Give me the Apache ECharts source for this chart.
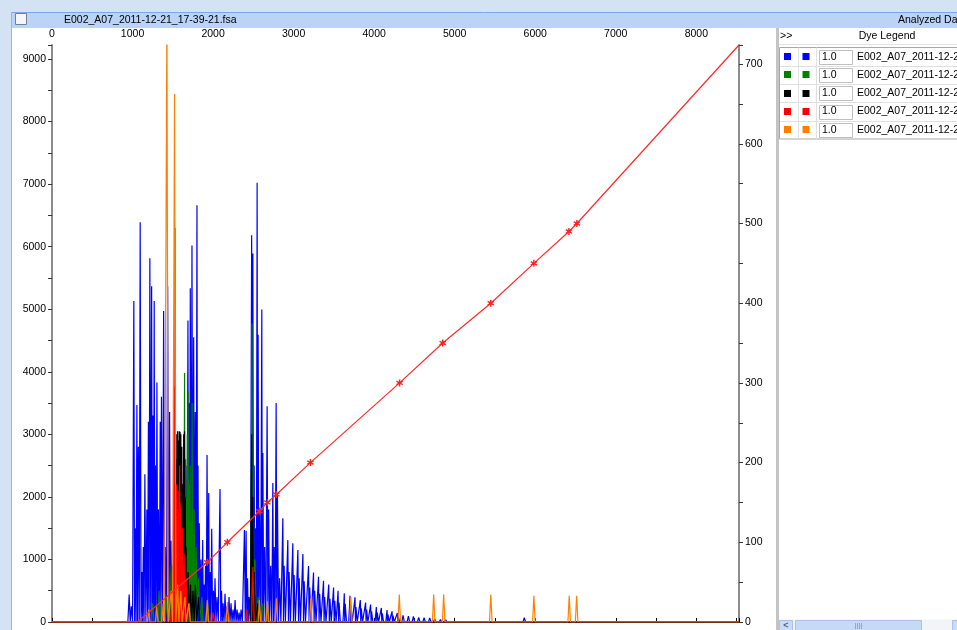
<!DOCTYPE html>
<html><head><meta charset="utf-8">
<script src="https://cdn.jsdelivr.net/npm/echarts@6/dist/echarts.min.js"></script>
<style>html,body{margin:0;padding:0;background:#fff;overflow:hidden}#c{width:957px;height:630px}</style>
</head><body><div id="c"></div>
<script>
// ---- data ----
const fileName = 'E002_A07_2011-12-21_17-39-21.fsa';
const panelTitle = 'Analyzed Data';
const legendTitle = 'Dye Legend';
const dyeNames = ['Blue', 'Green', 'Black', 'Red', 'Orange'];
const dyeColors = ['#0000ff', '#008000', '#000000', '#ff0000', '#ff8000'];
const dyeScale = ['1.0', '1.0', '1.0', '1.0', '1.0'];

const xTickLabels = [0, 1000, 2000, 3000, 4000, 5000, 6000, 7000, 8000];
const yLeftTickLabels = [0, 1000, 2000, 3000, 4000, 5000, 6000, 7000, 8000, 9000];
const yRightTickLabels = [0, 100, 200, 300, 400, 500, 600, 700];

// peaks: [scan position, height (RFU)]
const bluePeaks = [
  [958,440],[985,250],[1016,5130],[1035,1500],[1054,3470],[1072,2800],[1095,6390],[1116,800],
  [1134,1200],[1153,2360],[1178,1800],[1197,3200],[1215,5815],[1237,5365],[1253,3300],[1269,5130],
  [1284,2500],[1303,3830],[1321,1800],[1344,3200],[1359,3600],[1386,4970],[1408,1200],[1436,5365],
  [1460,3355],[1477,1300],[1495,900],[1540,700],[1570,1100],[1610,900],[1640,1500],[1663,2500],
  [1688,4820],[1703,3500],[1717,5335],[1738,6020],[1759,4550],[1779,3355],[1800,6660],[1813,2500],
  [1829,1580],[1850,1000],[1871,1310],[1887,600],[1906,900],[1925,2670],[1946,2060],[1962,800],
  [1983,1490],[2005,500],[2024,700],[2049,400],[2086,2125],[2105,500],[2124,300],[2148,450],
  [2173,250],[2198,400],[2223,300],[2248,200],[2273,350],[2298,200],[2323,150],[2348,200],
  [2389,1470],[2410,1460],[2428,700],[2447,400],[2479,6180],[2494,5890],[2510,2500],[2528,1500],
  [2547,7020],[2559,4590],[2578,1800],[2605,4995],[2618,2700],[2640,1200],[2671,3450],[2690,1800],
  [2715,900],[2742,2220],[2758,1200],[2783,3500],[2799,2040],[2826,700],[2866,1660],[2882,900],
  [2928,1310],[2944,800],[2990,1260],[3006,750],[3053,1150],[3069,700],[3115,1085],[3131,650],
  [3185,895],[3200,550],[3247,790],[3262,500],[3309,725],[3324,450],[3371,660],[3386,400],
  [3436,600],[3451,370],[3496,550],[3511,340],[3552,500],[3564,310],[3629,460],[3641,290],
  [3700,420],[3712,260],[3762,395],[3774,240],[3828,350],[3840,220],[3894,310],[3906,200],
  [3956,280],[3968,170],[4027,240],[4039,150],[4089,225],[4101,140],[4160,190],[4172,120],
  [4222,170],[4234,100],[4288,145],[4300,90],[4359,105],[4425,95],[4487,90],[4553,75],
  [4620,70],[4690,65],[4752,50],[4823,40],[4889,35],[4951,30],[5022,25],[5084,25],[5146,20],
  [5864,70]
];
const greenPeaks = [
  [1250,300],[1330,500],[1420,400],[1480,900],[1560,1200],[1600,2200],[1625,1500],[1646,3980],
  [1658,2600],[1668,2000],[1680,3000],[1690,3700],[1703,2200],[1715,2500],[1728,1600],[1740,3500],
  [1752,1400],[1765,1800],[1790,1200],[1820,700],[1860,400],[1930,300],[2483,4770],[2498,2500],
  [2520,1000],[2560,400],[2610,300],[2680,200]
];
const blackPeaks = [
  [1520,500],[1540,2600],[1550,3000],[1560,3050],[1570,2900],[1580,3050],[1590,3040],[1600,3000],
  [1612,2800],[1625,2200],[1635,3000],[1645,3050],[1655,2000],[1665,1200],[1690,800],[1720,600],
  [1750,500],[1780,600],[1820,400],[2480,3000],[2494,2000],[2510,800],[2555,300]
];
const redPeaks = [
  [1490,400],[1500,800],[1513,3770],[1528,6300],[1540,2000],[1548,2200],[1556,1600],[1565,1800],
  [1575,2100],[1585,2500],[1593,1900],[1600,1740],[1610,1300],[1620,1500],[1630,900],[1640,1100],
  [1665,700],[1700,300],[2000,150],[2420,200],[2494,880]
];
const orangePeaks = [
  [1200,200],[1300,250],[1380,300],[1427,9800],[1480,500],[1522,8440],[1560,600],[1600,500],
  [1650,400],[1700,300],[1928,350],[2177,320],[2575,350],[2674,330],[2786,380],[3213,380],
  [3710,400],[4312,440],[4739,440],[4863,440],[5448,440],[5983,420],[6422,420],[6514,420]
];

// sizing curve (right axis, bp)
const sizeStdPos = [1928, 2177, 2575, 2674, 2786, 3209, 4316, 4851, 5448, 5983, 6418, 6517];
const sizeStdBp  = [75, 100, 139, 150, 160, 200, 300, 350, 400, 450, 490, 500];
const sizeCurveHead = [[0, 0], [1060, 0]];
const sizeCurveTail = [[8530, 724]];

const xMax = 8530, yLeftMax = 9223, yRightMax = 724;

// ---- build traces ----
function trace(peaks) {
  const w = 16;
  const s = peaks.slice().sort((a, b) => a[0] - b[0]);
  const pts = [[0, 0]];
  s.forEach((p, i) => {
    const x = p[0], h = p[1];
    const l = i > 0 ? Math.max(x - w, (s[i - 1][0] + x) / 2) : x - w;
    const r = i < s.length - 1 ? Math.min(x + w, (x + s[i + 1][0]) / 2) : x + w;
    if (pts[pts.length - 1][0] < l) pts.push([l, 0]);
    pts.push([x, h]);
    pts.push([r, 0]);
  });
  pts.push([xMax, 0]);
  return pts;
}
const allPeaks = [bluePeaks, greenPeaks, blackPeaks, redPeaks, orangePeaks];

const FONT = '"Liberation Sans", Arial, sans-serif';
const TF = '10.5px ' + FONT;
const asterisk = 'path://M4,0h2v3.3l2.9-1.7 1,1.7-2.9,1.7 2.9,1.7-1,1.7-2.9-1.7v3.3h-2v-3.3l-2.9,1.7-1-1.7 2.9-1.7-2.9-1.7 1-1.7 2.9,1.7z';

const sizeData = sizeCurveHead.map(p => ({value: p, symbol: 'none'}))
  .concat(sizeStdPos.map((x, i) => ({value: [x, sizeStdBp[i]]})))
  .concat(sizeCurveTail.map(p => ({value: p, symbol: 'none'})));

const series = allPeaks.map((pk, i) => ({
  type: 'line', name: dyeNames[i], data: trace(pk), yAxisIndex: 0,
  showSymbol: false, symbol: 'none', animation: false, silent: true,
  lineStyle: {color: dyeColors[i], width: 1.2}, z: 2 + i
}));
series.push({
  type: 'line', name: 'Size', data: sizeData, yAxisIndex: 1,
  symbol: asterisk, symbolSize: 7, showSymbol: true, animation: false, silent: true,
  lineStyle: {color: '#ff2a2a', width: 1.2}, itemStyle: {color: '#ff2020'}, z: 10
});

// ---- chrome / legend graphics ----
const g = [];
g.push({type: 'rect', shape: {x: 0, y: 0, width: 957, height: 12}, style: {fill: '#d4e3f4'}, z: 100});
g.push({type: 'rect', shape: {x: 0, y: 0, width: 11, height: 630}, style: {fill: '#d4e3f4'}, z: 100});
g.push({type: 'line', shape: {x1: 11.5, y1: 12, x2: 11.5, y2: 630}, style: {stroke: '#9fb3d2', lineWidth: 1}, z: 101});
g.push({type: 'rect', shape: {x: 12, y: 12, width: 945, height: 16}, style: {fill: '#bad3f7'}, z: 100});
g.push({type: 'line', shape: {x1: 12, y1: 12.5, x2: 957, y2: 12.5}, style: {stroke: '#7ea6e2', lineWidth: 1}, z: 101});
g.push({type: 'rect', shape: {x: 15.5, y: 13.5, width: 11, height: 11}, style: {fill: '#f4f6f9', stroke: '#6d7f99', lineWidth: 1}, z: 101});
g.push({type: 'text', x: 64, y: 20, style: {text: fileName, font: TF, fill: '#000', textVerticalAlign: 'middle'}, z: 101});
g.push({type: 'text', x: 898, y: 20, style: {text: panelTitle, font: TF, fill: '#000', textVerticalAlign: 'middle'}, z: 101});
// legend panel
g.push({type: 'rect', shape: {x: 776, y: 28, width: 3, height: 602}, style: {fill: '#c4c4c4'}, z: 100});
g.push({type: 'text', x: 780, y: 36, style: {text: '>>', font: TF, fill: '#000', textVerticalAlign: 'middle'}, z: 101});
g.push({type: 'text', x: 887, y: 36, style: {text: legendTitle, font: TF, fill: '#000', textAlign: 'center', textVerticalAlign: 'middle'}, z: 101});
g.push({type: 'line', shape: {x1: 779, y1: 44.5, x2: 957, y2: 44.5}, style: {stroke: '#e2e2e2', lineWidth: 1}, z: 101});
const rowH = 18.3, rowTop = 47.5;
g.push({type: 'rect', shape: {x: 779.5, y: rowTop, width: 190, height: rowH * dyeNames.length}, style: {fill: '#fff', stroke: '#a8a8a8', lineWidth: 1}, z: 101});
g.push({type: 'line', shape: {x1: 798.5, y1: rowTop, x2: 798.5, y2: rowTop + rowH * 5}, style: {stroke: '#e0e0e0', lineWidth: 1}, z: 102});
g.push({type: 'line', shape: {x1: 816.5, y1: rowTop, x2: 816.5, y2: rowTop + rowH * 5}, style: {stroke: '#e0e0e0', lineWidth: 1}, z: 102});
dyeNames.forEach((n, i) => {
  const cy = rowTop + rowH * (i + 0.5);
  if (i > 0) g.push({type: 'line', shape: {x1: 780, y1: Math.round(rowTop + rowH * i) + 0.5, x2: 957, y2: Math.round(rowTop + rowH * i) + 0.5}, style: {stroke: '#e0e0e0', lineWidth: 1}, z: 102});
  g.push({type: 'rect', shape: {x: 784, y: Math.round(cy - 3.5), width: 7, height: 7}, style: {fill: dyeColors[i]}, z: 103});
  g.push({type: 'rect', shape: {x: 802.5, y: Math.round(cy - 3.5), width: 7, height: 7}, style: {fill: dyeColors[i]}, z: 103});
  g.push({type: 'rect', shape: {x: 819.5, y: Math.round(cy - 7) + 0.5, width: 33, height: 14}, style: {fill: '#fff', stroke: '#c0c0c0', lineWidth: 1}, z: 103});
  g.push({type: 'text', x: 822, y: cy, style: {text: dyeScale[i], font: TF, fill: '#000', textVerticalAlign: 'middle'}, z: 104});
  g.push({type: 'text', x: 857, y: cy, style: {text: fileName, font: TF, fill: '#000', textVerticalAlign: 'middle'}, z: 104});
});
// scrollbar
g.push({type: 'rect', shape: {x: 779, y: 619.5, width: 178, height: 11}, style: {fill: '#f2f4f8'}, z: 101});
g.push({type: 'rect', shape: {x: 779.5, y: 620.5, width: 13, height: 10}, style: {fill: '#c9dbf6', stroke: '#a8c2ea', lineWidth: 1}, z: 102});
g.push({type: 'text', x: 786, y: 626, style: {text: '<', font: 'bold 9px ' + FONT, fill: '#4d6185', textAlign: 'center', textVerticalAlign: 'middle'}, z: 103});
g.push({type: 'rect', shape: {x: 795.5, y: 620.5, width: 126, height: 10}, style: {fill: '#c6d9f7', stroke: '#a8c2ea', lineWidth: 1}, z: 102});
[855.5, 857.5, 859.5, 861.5].forEach(x => g.push({type: 'line', shape: {x1: x, y1: 623, x2: x, y2: 629}, style: {stroke: '#8ea8d2', lineWidth: 1}, z: 103}));
g.push({type: 'rect', shape: {x: 952.5, y: 620.5, width: 10, height: 10}, style: {fill: '#c9dbf6', stroke: '#a8c2ea', lineWidth: 1}, z: 102});

const chart = echarts.init(document.getElementById('c'), null, {renderer: 'canvas'});
chart.setOption({
  backgroundColor: '#ffffff',
  animation: false,
  grid: {left: 52, right: 218, top: 45, bottom: 8},
  xAxis: {
    type: 'value', position: 'top', min: 0, max: xMax, interval: 500,
    axisLine: {show: true, lineStyle: {color: '#000', width: 1}},
    axisTick: {show: true, length: 4, lineStyle: {color: '#000'}},
    axisLabel: {margin: 5, fontSize: 10.5, fontFamily: FONT, color: '#000',
      formatter: v => xTickLabels.includes(v) ? String(v) : ''},
    splitLine: {show: false}
  },
  yAxis: [{
    type: 'value', position: 'left', min: 0, max: yLeftMax, interval: 500,
    axisLine: {show: true, lineStyle: {color: '#8c8c8c', width: 2}},
    axisTick: {show: true, length: 4, lineStyle: {color: '#333'}},
    axisLabel: {margin: 6, fontSize: 10.5, fontFamily: FONT, color: '#000',
      formatter: v => yLeftTickLabels.includes(v) ? String(v) : ''},
    splitLine: {show: false}
  }, {
    type: 'value', position: 'right', min: 0, max: yRightMax, interval: 50,
    axisLine: {show: true, lineStyle: {color: '#8c8c8c', width: 2}},
    axisTick: {show: true, length: 4, lineStyle: {color: '#333'}},
    axisLabel: {margin: 6, fontSize: 10.5, fontFamily: FONT, color: '#000',
      formatter: v => yRightTickLabels.includes(v) ? String(v) : ''},
    splitLine: {show: false}
  }],
  series: series,
  graphic: {elements: g}
});
</script></body></html>
